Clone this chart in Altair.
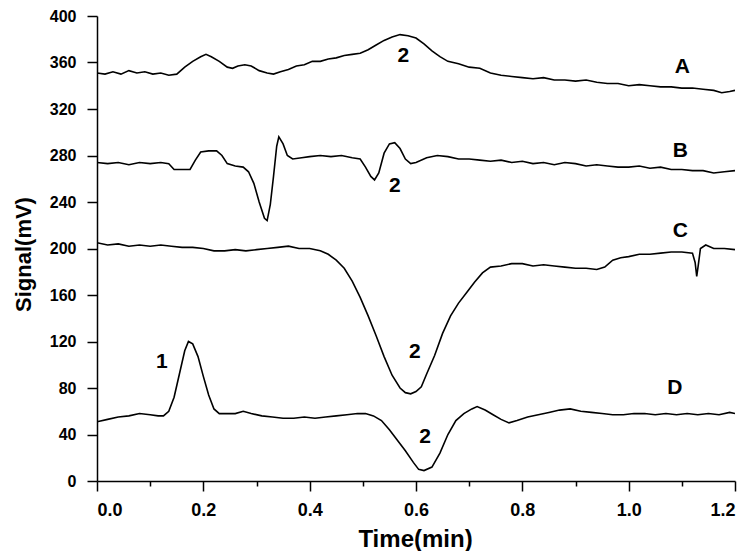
import altair as alt
import pandas as pd

# Trace A
a_x = [0.000,0.015,0.030,0.045,0.060,0.075,0.090,0.105,0.120,0.135,0.150,0.165,0.180,0.195,0.205,0.215,0.230,0.245,0.255,0.265,0.278,0.290,0.305,0.320,0.332,0.345,0.360,0.375,0.390,0.405,0.420,0.435,0.450,0.465,0.480,0.495,0.510,0.525,0.540,0.555,0.570,0.585,0.600,0.615,0.630,0.645,0.660,0.680,0.700,0.720,0.740,0.760,0.780,0.800,0.820,0.840,0.860,0.880,0.900,0.920,0.940,0.960,0.980,1.000,1.020,1.040,1.060,1.080,1.100,1.120,1.140,1.160,1.175,1.190,1.200]
a_y = [351,350,352,350,353,351,352,350,351,349,350,356,361,365,367,365,361,356,355,357,358,357,353,351,350,352,354,357,358,361,361,363,364,366,367,368,371,375,379,382,384,383,381,376,370,365,361,359,356,355,351,349,348,347,346,347,345,345,344,345,343,342,342,340,341,340,339,339,338,338,337,336,334,335,336]

# Trace B
b_x = [0.000,0.020,0.040,0.060,0.080,0.100,0.120,0.135,0.145,0.160,0.175,0.185,0.195,0.210,0.225,0.235,0.245,0.260,0.275,0.285,0.295,0.305,0.315,0.320,0.326,0.332,0.338,0.342,0.350,0.358,0.368,0.385,0.400,0.420,0.440,0.460,0.480,0.495,0.505,0.515,0.522,0.530,0.540,0.550,0.560,0.570,0.580,0.590,0.600,0.620,0.640,0.660,0.680,0.700,0.720,0.740,0.760,0.780,0.800,0.820,0.840,0.860,0.880,0.900,0.920,0.940,0.960,0.980,1.000,1.020,1.040,1.060,1.080,1.100,1.120,1.140,1.160,1.180,1.200]
b_y = [274,273,274,272,274,273,274,273,268,268,268,276,283,284,284,280,273,271,270,266,256,240,226,224,238,262,288,296,290,280,277,278,279,280,279,280,278,277,270,262,259,265,282,290,291,286,277,273,274,278,280,279,277,277,276,275,276,274,275,273,274,272,274,273,271,272,271,270,270,271,269,270,268,268,267,267,265,266,267]

# Trace C
c_x = [0.000,0.020,0.040,0.060,0.080,0.100,0.120,0.140,0.160,0.180,0.200,0.220,0.240,0.260,0.280,0.300,0.320,0.340,0.360,0.380,0.400,0.420,0.435,0.450,0.465,0.480,0.495,0.510,0.525,0.540,0.555,0.570,0.580,0.590,0.600,0.610,0.620,0.635,0.650,0.665,0.680,0.695,0.710,0.725,0.740,0.760,0.780,0.800,0.820,0.840,0.860,0.880,0.900,0.920,0.940,0.955,0.970,0.985,1.000,1.020,1.040,1.060,1.080,1.100,1.120,1.125,1.128,1.131,1.135,1.145,1.160,1.180,1.200]
c_y = [205,203,204,202,203,202,203,202,201,201,200,198,198,199,198,199,200,201,202,200,200,198,195,190,183,172,158,142,125,107,91,80,76,75,77,81,92,108,127,142,153,162,171,179,184,185,187,187,185,186,185,184,183,183,182,184,190,192,193,195,195,196,197,197,196,188,176,186,200,203,200,200,199]

# Trace D
d_x = [0.000,0.020,0.040,0.060,0.080,0.100,0.115,0.125,0.135,0.145,0.155,0.165,0.172,0.180,0.190,0.200,0.210,0.220,0.230,0.245,0.260,0.275,0.290,0.310,0.330,0.350,0.370,0.390,0.410,0.430,0.450,0.470,0.490,0.505,0.520,0.535,0.550,0.565,0.580,0.595,0.605,0.615,0.630,0.645,0.660,0.675,0.690,0.705,0.715,0.730,0.745,0.760,0.775,0.790,0.810,0.830,0.850,0.870,0.890,0.910,0.930,0.950,0.970,0.990,1.010,1.030,1.050,1.070,1.090,1.110,1.130,1.150,1.170,1.190,1.200]
d_y = [51,53,55,56,58,57,56,56,60,72,92,112,120,118,107,90,74,62,58,58,58,60,58,56,55,54,54,55,54,55,56,57,58,58,56,52,44,35,26,16,10,9,12,24,40,52,58,62,64,61,57,53,50,52,55,57,59,61,62,60,59,58,57,57,58,58,57,58,57,58,57,58,57,59,58]

# Annotations
label_text = ["A", "B", "C", "D", "2", "2", "2", "2", "1"]
label_x = [1.101, 1.097, 1.097, 1.087, 0.576, 0.560, 0.598, 0.617, 0.122]
label_y = [356, 284, 215, 80, 366, 254, 111, 38, 102]

rows = []
for name, xs, ys in [("A", a_x, a_y), ("B", b_x, b_y), ("C", c_x, c_y), ("D", d_x, d_y)]:
    for i, (xv, yv) in enumerate(zip(xs, ys)):
        rows.append({"trace": name, "t": xv, "s": yv, "i": i})
df = pd.DataFrame(rows)
lab = pd.DataFrame({"text": label_text, "t": label_x, "s": label_y})

FONT = "Liberation Sans"

x_scale = alt.Scale(domain=[0, 1.2], nice=False, zero=False)
y_scale = alt.Scale(domain=[0, 400], nice=False)

x_axis = alt.Axis(
    values=[round(v * 0.1, 1) for v in range(13)],
    labelExpr="round(datum.value*10)%2==0 ? format(datum.value, '.1f') : ''",
    tickSize={"condition": {"test": "round(datum.value*10)%2==0", "value": 10}, "value": 5},
    tickColor="black", tickWidth=1.5, domainColor="black", domainWidth=1.5,
    labelFont=FONT, labelFontSize=18, labelFontWeight="bold", labelColor="black",
    labelPadding=10, grid=False,
    title="Time(min)", titleFont=FONT, titleFontSize=24, titleFontWeight="bold",
    titleColor="black", titleX=318, titleY=58, titleBaseline="middle", titleAlign="center",
)
y_axis = alt.Axis(
    values=list(range(0, 401, 20)),
    labelExpr="datum.value % 40 == 0 ? datum.label : ''",
    tickSize={"condition": {"test": "datum.value % 40 == 0", "value": 10}, "value": 5},
    tickColor="black", tickWidth=1.5, domainColor="black", domainWidth=1.5,
    labelFont=FONT, labelFontSize=16, labelFontWeight="bold", labelColor="black",
    labelPadding=11, grid=False,
    title="Signal(mV)", titleFont=FONT, titleFontSize=22, titleFontWeight="bold",
    titleColor="black", titleX=-74, titleY=238, titleBaseline="middle", titleAlign="center",
    titleAngle=270,
)

lines = alt.Chart(df).mark_line(color="black", strokeWidth=1.6, clip=True).encode(
    x=alt.X("t:Q", scale=x_scale, axis=x_axis),
    y=alt.Y("s:Q", scale=y_scale, axis=y_axis),
    detail="trace:N",
    order="i:Q",
)

texts = alt.Chart(lab).mark_text(
    font=FONT, fontSize=21, fontWeight="bold", color="black", align="center", baseline="middle"
).encode(
    x=alt.X("t:Q", scale=x_scale),
    y=alt.Y("s:Q", scale=y_scale),
    text="text:N",
)

chart = (lines + texts).properties(
    width=638, height=465,
    autosize=alt.AutoSizeParams(type="none"),
    padding={"left": 89, "top": 8, "right": 8, "bottom": 70},
    background="white",
).configure_view(stroke=None)

chart.save("out.html", embed_options={"renderer": "svg", "actions": False})
